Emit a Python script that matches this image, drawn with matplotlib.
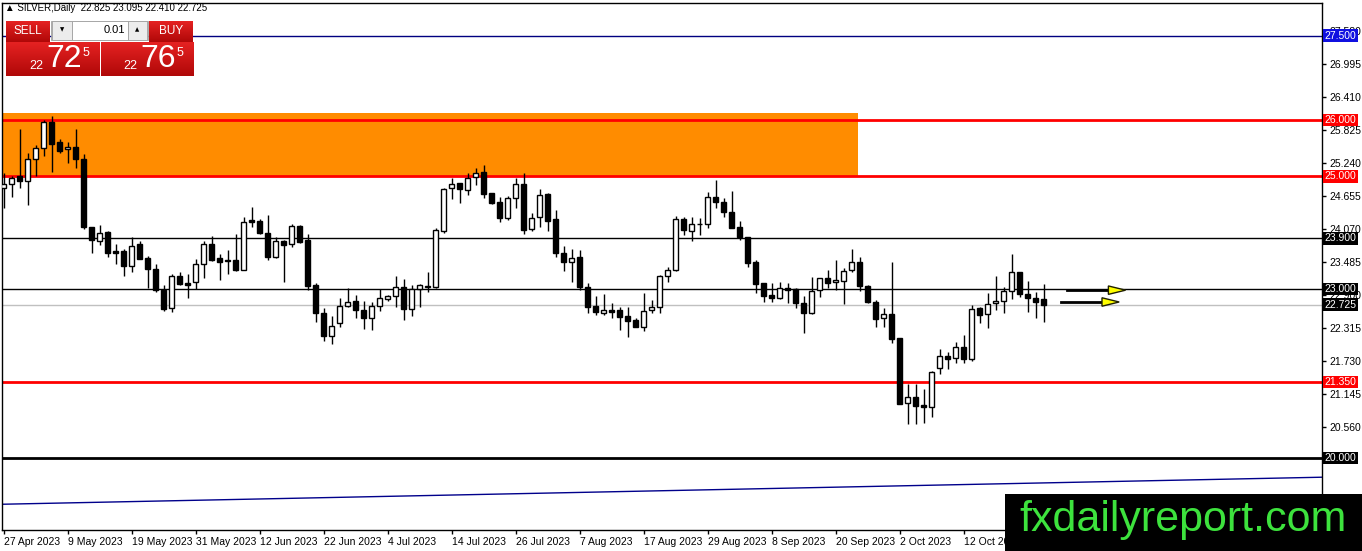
import numpy as np
import matplotlib
matplotlib.use('Agg')
import matplotlib.pyplot as plt
from matplotlib.patches import Rectangle, Polygon

plt.rcParams['font.family'] = ['Liberation Sans', 'DejaVu Sans']

W, H = 1362, 551

# daily candles, 27 Apr 2023 .. 26 Oct 2023
opens = [24.79, 24.86, 25.00, 24.92, 25.31, 25.50, 25.96, 25.61, 25.49, 25.52,
         25.31, 24.10, 23.85, 24.01, 23.67, 23.67, 23.41, 23.80, 23.55, 23.36,
         22.98, 22.66, 23.23, 23.10, 23.12, 23.44, 23.80, 23.55, 23.52, 23.52,
         23.34, 24.22, 24.21, 23.99, 23.57, 23.85, 23.80, 24.12, 23.87, 23.07,
         22.57, 22.17, 22.40, 22.70, 22.79, 22.63, 22.49, 22.70, 22.82, 22.88,
         23.04, 22.65, 23.00, 23.04, 23.04, 24.03, 24.79, 24.88, 24.76, 24.99,
         25.08, 24.70, 24.54, 24.26, 24.62, 24.86, 24.07, 24.28, 24.69, 24.24,
         23.64, 23.48, 23.57, 23.04, 22.70, 22.57, 22.63, 22.63, 22.52, 22.45,
         22.33, 22.63, 22.68, 23.23, 23.34, 24.24, 24.03, 24.15, 24.15, 24.63,
         24.54, 24.37, 24.10, 23.92, 23.48, 23.11, 22.89, 22.84, 23.02, 23.00,
         22.75, 22.57, 22.98, 23.20, 23.12, 23.14, 23.34, 23.48, 23.05, 22.77,
         22.49, 22.56, 22.13, 20.98, 21.08, 20.94, 20.91, 21.60, 21.81, 21.78,
         21.97, 21.76, 22.66, 22.56, 22.75, 22.79, 22.96, 23.30, 22.91, 22.84,
         22.825]
highs = [25.06, 25.00, 25.84, 25.41, 25.56, 26.00, 26.07, 25.66, 25.61, 25.84,
         25.40, 24.10, 24.14, 24.03, 23.80, 23.71, 23.92, 23.85, 23.59, 23.44,
         23.07, 23.27, 23.30, 23.27, 23.53, 23.85, 23.94, 23.62, 23.69, 23.98,
         24.28, 24.46, 24.24, 24.31, 23.92, 23.87, 24.15, 24.14, 23.98, 23.11,
         22.66, 22.52, 22.84, 23.02, 22.89, 22.79, 22.77, 23.00, 22.89, 23.23,
         23.18, 23.07, 23.09, 23.30, 24.08, 24.79, 24.97, 24.88, 25.06, 25.15,
         25.20, 24.70, 24.63, 24.65, 24.97, 25.06, 24.35, 24.78, 24.70, 24.40,
         23.76, 23.71, 23.69, 23.11, 22.88, 22.91, 22.75, 22.68, 22.68, 22.49,
         22.93, 22.80, 23.25, 23.39, 24.30, 24.28, 24.28, 24.26, 24.72, 24.93,
         24.62, 24.74, 24.21, 23.92, 23.52, 23.11, 23.11, 23.12, 23.11, 23.02,
         22.88, 23.21, 23.20, 23.34, 23.52, 23.37, 23.71, 23.57, 23.07, 22.80,
         22.66, 23.48, 22.13, 21.31, 21.31, 21.23, 21.54, 21.94, 21.88, 22.06,
         22.18, 22.72, 22.68, 22.93, 23.23, 23.04, 23.62, 23.30, 23.14, 22.95,
         23.095]
lows = [24.44, 24.63, 24.79, 24.49, 25.00, 25.36, 25.08, 25.41, 25.24, 25.15,
        24.07, 23.64, 23.78, 23.57, 23.44, 23.23, 23.30, 23.53, 23.02, 22.95,
        22.61, 22.59, 23.07, 22.84, 23.00, 23.20, 23.50, 23.16, 23.27, 23.32,
        23.34, 24.10, 23.98, 23.52, 23.55, 23.12, 23.75, 23.82, 22.98, 22.41,
        22.08, 22.02, 22.33, 22.68, 22.49, 22.29, 22.27, 22.61, 22.79, 22.68,
        22.45, 22.52, 22.68, 22.95, 23.02, 23.99, 24.60, 24.53, 24.67, 24.85,
        24.62, 24.51, 24.19, 24.22, 24.44, 23.98, 24.03, 24.10, 24.03, 23.57,
        23.32, 23.12, 22.98, 22.57, 22.54, 22.54, 22.49, 22.27, 22.15, 22.32,
        22.25, 22.57, 22.57, 23.12, 23.32, 23.96, 23.85, 23.96, 24.08, 24.44,
        24.28, 24.08, 23.87, 23.39, 22.93, 22.77, 22.77, 22.82, 22.75, 22.66,
        22.22, 22.56, 22.86, 23.02, 22.98, 22.73, 23.30, 22.96, 22.75, 22.33,
        22.33, 22.04, 20.96, 20.60, 20.60, 20.62, 20.73, 21.49, 21.58, 21.69,
        21.69, 21.72, 22.40, 22.31, 22.63, 22.57, 22.82, 22.86, 22.59, 22.49,
        22.41]
closes = [24.86, 24.97, 24.92, 25.31, 25.50, 25.96, 25.57, 25.45, 25.52, 25.31,
          24.10, 23.87, 23.99, 23.64, 23.64, 23.41, 23.76, 23.53, 23.36, 22.98,
          22.65, 23.23, 23.09, 23.08, 23.44, 23.80, 23.52, 23.48, 23.50, 23.34,
          24.19, 24.19, 23.99, 23.57, 23.85, 23.78, 24.12, 23.83, 23.05, 22.57,
          22.17, 22.34, 22.70, 22.77, 22.63, 22.49, 22.70, 22.84, 22.88, 23.04,
          22.65, 23.00, 23.07, 23.05, 24.05, 24.78, 24.86, 24.78, 24.97, 25.06,
          24.69, 24.53, 24.26, 24.62, 24.86, 24.05, 24.26, 24.67, 24.21, 23.64,
          23.48, 23.55, 23.04, 22.68, 22.59, 22.63, 22.59, 22.50, 22.43, 22.33,
          22.61, 22.68, 23.23, 23.34, 24.24, 24.05, 24.15, 24.16, 24.63, 24.54,
          24.37, 24.08, 23.92, 23.46, 23.09, 22.88, 22.84, 23.02, 22.98, 22.75,
          22.57, 22.96, 23.20, 23.11, 23.16, 23.32, 23.48, 23.05, 22.77, 22.47,
          22.56, 22.11, 20.96, 21.08, 20.92, 20.91, 21.53, 21.81, 21.76, 21.97,
          21.76, 22.65, 22.54, 22.73, 22.79, 22.96, 23.30, 22.91, 22.84, 22.77,
          22.725]

date_labels = ['27 Apr 2023', '9 May 2023', '19 May 2023', '31 May 2023', '12 Jun 2023',
               '22 Jun 2023', '4 Jul 2023', '14 Jul 2023', '26 Jul 2023', '7 Aug 2023',
               '17 Aug 2023', '29 Aug 2023', '8 Sep 2023', '20 Sep 2023', '2 Oct 2023',
               '12 Oct 2023']
date_bars = [0, 8, 16, 24, 32, 40, 48, 56, 64, 72, 80, 88, 96, 104, 112, 120]

price_ticks = [20.560, 21.145, 21.730, 22.315, 22.900, 23.485, 24.070,
               24.655, 25.240, 25.825, 26.410, 26.995, 27.580]

# horizontal levels: (price, line colour, width, label box colour)
levels = [(27.500, '#000080', 1.0, '#1010e0'),
          (26.000, '#ff0000', 2.0, '#ff0000'),
          (25.000, '#ff0000', 2.0, '#ff0000'),
          (23.900, '#000000', 1.0, '#000000'),
          (23.000, '#000000', 1.0, '#000000'),
          (22.725, '#c0c0c0', 1.0, '#000000'),
          (21.350, '#ff0000', 2.0, '#ff0000'),
          (20.000, '#000000', 2.0, '#000000')]

zone_top, zone_bottom, zone_end = 26.12, 25.0, 106.8
trend_x = [-0.2, 164.8]
trend_y = [19.18, 19.66]
arrow_y = [22.98, 22.77]
arrow_x0 = [132.9, 132.2]
arrow_x1 = [138.1, 137.3]

o = np.array(opens); h = np.array(highs); l = np.array(lows); c = np.array(closes)
x = np.arange(len(o))

fig = plt.figure(figsize=(W / 100, H / 100), dpi=100)
fig.patch.set_facecolor('white')
ax = fig.add_axes([2 / W, 1 - 530 / H, 1320 / W, 527 / H])
ax.set_xlim(-0.19, 164.8)
ax.set_ylim(18.723, 28.077)

ax.add_patch(Rectangle((-0.19, zone_bottom), zone_end + 0.19, zone_top - zone_bottom,
                       facecolor='#ff8c00', edgecolor='none', zorder=1))

for price, col, lw, box in levels:
    ax.axhline(price, color=col, lw=lw, zorder=2)
    ax.text(1.002, price, f'{price:.3f}', transform=ax.get_yaxis_transform(),
            color='white', fontsize=7.5, va='center', ha='left', zorder=6, clip_on=False,
            bbox=dict(boxstyle='square,pad=0.12', fc=box, ec='none'))

ax.plot(trend_x, trend_y, color='#00008b', lw=1, zorder=2)

up = c >= o
bottom = np.minimum(o, c)
height = np.maximum(np.abs(c - o), 0.012)
ax.vlines(x, l, h, color='black', lw=1, zorder=3)
ax.bar(x[up], height[up], bottom=bottom[up], width=0.62, facecolor='white',
       edgecolor='black', lw=1, zorder=4)
ax.bar(x[~up], height[~up], bottom=bottom[~up], width=0.62, facecolor='black',
       edgecolor='black', lw=1, zorder=4)

for yy, xa, xb in zip(arrow_y, arrow_x0, arrow_x1):
    ax.plot([xa, xb], [yy, yy], color='black', lw=2, zorder=5)
    ax.add_patch(Polygon([[xb, yy + 0.075], [xb, yy - 0.075], [xb + 2.15, yy]],
                         closed=True, facecolor='#ffff00', edgecolor='#202000', lw=1, zorder=5))

ax.yaxis.tick_right()
ax.set_yticks(price_ticks)
ax.set_yticklabels([f'{t:.3f}' for t in price_ticks])
ax.set_xticks(date_bars)
ax.set_xticklabels(date_labels, ha='left')
ax.tick_params(axis='both', labelsize=7.5, length=3, width=1, pad=2, colors='black')
for s in ax.spines.values():
    s.set_color('black')
    s.set_linewidth(1)

fig.text(5 / W, 1 - 8 / H, '\u25b2 SILVER,Daily  22.825 23.095 22.410 22.725',
         fontsize=7, va='center', ha='left')


def fbox(x0, y0, x1, y1):
    return (x0 / W, 1 - y1 / H), (x1 - x0) / W, (y1 - y0) / H


def red_box(x0, y0, x1, y1):
    pos, w, hh = fbox(x0, y0, x1, y1)
    bax = fig.add_axes([pos[0], pos[1], w, hh], zorder=2)
    grad = np.linspace(0, 1, 50).reshape(-1, 1)
    cmap = matplotlib.colors.LinearSegmentedColormap.from_list('r', ['#e52222', '#b00808'])
    bax.imshow(grad, aspect='auto', cmap=cmap, extent=[0, 1, 0, 1], origin='upper')
    bax.axis('off')


red_box(6, 21, 50, 42)
red_box(149, 21, 193, 42)
red_box(6, 42, 99, 76)
red_box(101, 42, 193, 76)

for x0, x1, fc in [(51, 148, '#d8d8d8'), (52, 72, '#ececec'), (72, 128, 'white'), (128, 147, '#ececec')]:
    pos, w, hh = fbox(x0, 21, x1, 40)
    fig.add_artist(Rectangle(pos, w, hh, transform=fig.transFigure, facecolor=fc,
                             edgecolor='#a0a0a0', lw=0.6, zorder=1))


def ftext(px, py, s, z=3, **kw):
    fig.text(px / W, 1 - py / H, s, va='center', zorder=z, **kw)


ftext(28, 31, 'SELL', color='white', fontsize=8.5, ha='center')
ftext(171, 31, 'BUY', color='white', fontsize=8.5, ha='center')
ftext(125, 30, '0.01', color='black', fontsize=8, ha='right')
ftext(62, 30, '\u25bc', color='black', fontsize=4, ha='center', family=['DejaVu Sans'])
ftext(137, 30, '\u25b2', color='black', fontsize=4, ha='center', family=['DejaVu Sans'])
for cx, big in [(0, '72'), (94, '76')]:
    ftext(36 + cx, 66, '22', color='white', fontsize=9, ha='center')
    ftext(64 + cx, 59, big, color='white', fontsize=23, ha='center')
    ftext(86 + cx, 53, '5', color='white', fontsize=9, ha='center')

pos, w, hh = fbox(1005, 494, 1362, 551)
fig.add_artist(Rectangle(pos, w, hh, transform=fig.transFigure, facecolor='black',
                         edgecolor='none', zorder=5))
ftext(1183, 520, 'fxdailyreport.com', z=6, color='#3de23d', fontsize=31, ha='center')

fig.savefig('out.png', dpi=100)
